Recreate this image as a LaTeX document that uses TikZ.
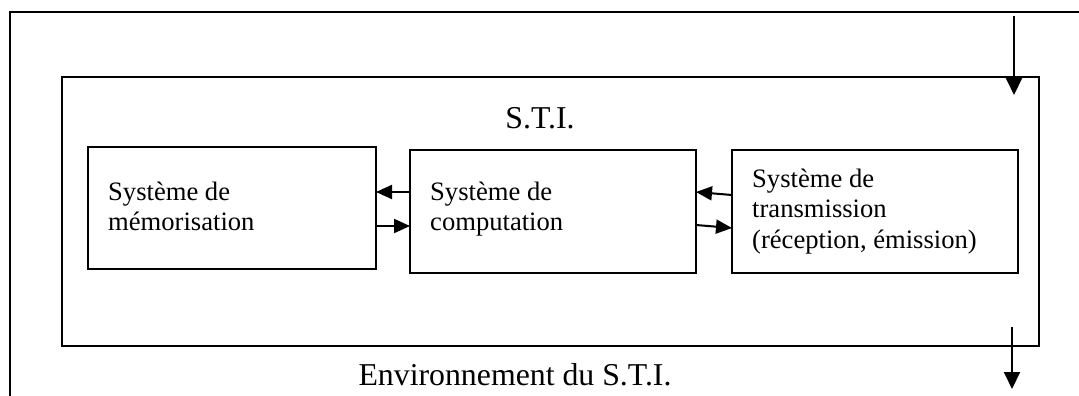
\documentclass[tikz,border=0pt]{standalone}
\usepackage{fontspec}
\setmainfont{Liberation Serif}
\usetikzlibrary{arrows.meta}
\begin{document}
\begin{tikzpicture}[x=1pt,y=-1pt,
  frame/.style={draw, line width=1.8pt},
  boxnode/.style={draw, line width=2pt, inner sep=0pt, outer sep=0pt},
  boxtext/.style={anchor=base west, inner sep=0pt, font=\fontsize{26.6}{30.5}\selectfont},
  bigtext/.style={anchor=base, inner sep=0pt, font=\fontsize{31.8}{36}\selectfont},
  arr/.style={line width=2pt, -{Triangle[length=17pt,width=16pt]}},
  sarr/.style={line width=2pt, -{Triangle[length=16pt,width=14pt]}}]
\useasboundingbox (0,0) rectangle (1079,396);
% outer environment frame
\draw[frame] (10,396) -- (10,12) -- (1079,12);
% S.T.I. frame
\node[boxnode, minimum width=977pt, minimum height=269pt] (sti) at (550.5,211.5) {};
\node[bigtext] (stit) at (540,128) {S.T.I.};
\node[bigtext] (env) at (515,385) {Environnement du S.T.I.};
% boxes
\node[boxnode, minimum width=288pt, minimum height=122pt] (b1) at (232,208) {};
\node[boxnode, minimum width=286pt, minimum height=123pt] (b2) at (553,211.5) {};
\node[boxnode, minimum width=286pt, minimum height=123pt] (b3) at (875,211.5) {};
\node[boxtext] (t1) at (108,200) {\begin{tabular}[t]{@{}l@{}}Système de\\mémorisation\end{tabular}};
\node[boxtext] (t2) at (430,200) {\begin{tabular}[t]{@{}l@{}}Système de\\computation\end{tabular}};
\node[boxtext] (t3) at (752,187) {\begin{tabular}[t]{@{}l@{}}Système de\\transmission\\(réception, émission)\end{tabular}};
% connectors between boxes
\draw[sarr] (b2.west |- 0,192) -- (b1.east |- 0,192);
\draw[sarr] (b1.east |- 0,226) -- (b2.west |- 0,226);
\draw[sarr] (b3.west |- 0,195) -- (b2.east |- 0,192);
\draw[sarr] (b2.east |- 0,225) -- (b3.west |- 0,228);
% flows in and out
\coordinate (inA) at (1014,16);
\coordinate (inB) at (1014,95);
\coordinate (outA) at (1012,327);
\coordinate (outB) at (1012,389);
\draw[arr] (inA) -- (inB);
\draw[arr] (outA) -- (outB);
\end{tikzpicture}
\end{document}
